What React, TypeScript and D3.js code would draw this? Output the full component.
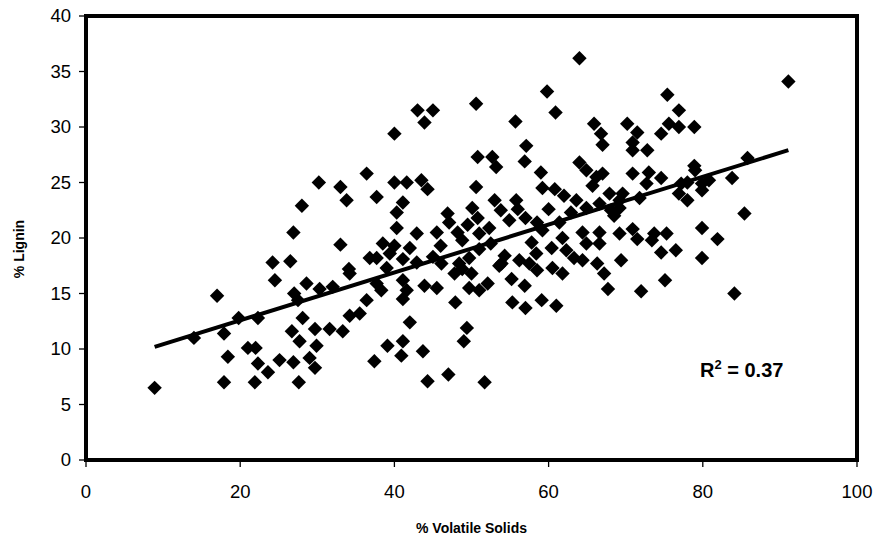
import React from "react";
import * as d3 from "d3";

const volatileSolids: number[] = [
  8.9, 14.0, 17.0, 17.9, 18.4, 17.9, 19.8, 22.3, 21.0, 22.0, 22.3, 23.6, 21.9, 24.5, 24.2, 26.5, 26.7, 27.7, 25.1, 26.9,
  27.6, 27.0, 27.5, 28.6, 30.3, 32.0, 34.2, 28.1, 29.7, 29.9, 29.0, 29.7, 31.6, 33.3, 34.2, 35.5, 36.4, 37.4, 37.7, 36.4,
  30.2, 33.0, 33.8, 28.0, 37.7, 26.9, 33.0, 36.8, 37.7, 34.1, 59.8, 43.0, 45.0, 43.9, 50.6, 40.0, 60.9, 55.7, 65.9, 66.8,
  67.0, 57.1, 50.8, 52.7, 53.2, 56.9, 64.0, 64.9, 59.0, 66.2, 65.7, 40.0, 41.6, 43.5, 44.3, 50.6, 59.2, 60.8, 41.1, 40.3,
  40.3, 42.9, 45.5, 46.0, 46.9, 48.2, 47.1, 50.1, 50.8, 53.0, 53.8, 55.8, 56.0, 54.9, 52.3, 51.0, 58.5, 59.2, 61.4, 61.8,
  62.9, 63.6, 64.9, 64.4, 66.6, 64.9, 38.5, 40.0, 42.0, 39.4, 41.1, 42.9, 46.1, 48.4, 49.7, 51.0, 54.3, 53.9, 56.2, 57.5,
  58.4, 60.4, 62.3, 63.3, 64.4, 66.3, 39.1, 41.1, 40.9, 43.7, 42.0, 44.3, 47.0, 51.7, 49.4, 49.0, 47.9, 41.1, 38.3, 41.6,
  43.9, 45.5, 47.8, 50.0, 49.7, 51.0, 52.1, 55.2, 56.9, 58.5, 60.5, 61.8, 55.3, 57.0, 59.1, 61.0, 67.7, 91.1, 75.4, 76.9,
  75.6, 76.9, 78.9, 74.6, 70.2, 71.5, 70.9, 70.9, 72.8, 78.9, 85.8, 83.8, 67.0, 70.9, 73.0, 74.6, 72.7, 77.2, 78.0, 79.9,
  80.8, 76.9, 78.0, 79.9, 67.9, 69.6, 69.2, 71.8, 68.1, 69.2, 85.4, 79.9, 81.9, 79.9, 69.2, 70.9, 71.5, 73.7, 75.3, 73.4,
  74.6, 76.5, 69.4, 72.0, 75.1, 84.1, 67.2, 64.0, 66.6, 68.5, 66.6, 39.0, 41.1, 48.8, 53.6, 79.0, 48.8, 49.5, 52.5, 57.0,
  60.0, 62.0, 45.0, 57.8,
];

const lignin: number[] = [
  6.5, 11.0, 14.8, 11.4, 9.3, 7.0, 12.8, 12.8, 10.1, 10.1, 8.7, 7.9, 7.0, 16.2, 17.8, 17.9, 11.6, 10.7, 9.0, 8.8,
  7.0, 15.0, 14.4, 15.9, 15.4, 15.6, 16.8, 12.8, 11.8, 10.3, 9.2, 8.3, 11.8, 11.6, 13.0, 13.2, 14.4, 8.9, 15.9, 25.8,
  25.0, 24.6, 23.4, 22.9, 23.7, 20.5, 19.4, 18.2, 18.2, 17.2, 33.2, 31.5, 31.5, 30.4, 32.1, 29.4, 31.3, 30.5, 30.3, 29.4,
  28.4, 28.3, 27.3, 27.3, 26.4, 26.9, 26.8, 26.1, 25.9, 25.5, 24.7, 25.0, 25.0, 25.2, 24.4, 24.6, 24.5, 24.4, 23.2, 22.3,
  20.9, 20.4, 20.5, 19.3, 22.2, 20.5, 21.4, 22.7, 21.8, 23.4, 22.5, 23.4, 22.6, 21.6, 20.9, 20.4, 21.4, 20.7, 21.4, 20.0,
  22.3, 23.4, 22.7, 20.5, 20.5, 19.5, 19.5, 19.3, 19.1, 18.6, 18.1, 17.8, 17.7, 17.7, 18.2, 19.0, 18.4, 17.7, 18.0, 17.7,
  18.6, 19.1, 18.9, 18.2, 18.0, 17.7, 10.3, 10.7, 9.4, 9.8, 12.4, 7.1, 7.7, 7.0, 11.9, 10.7, 14.2, 14.5, 15.3, 15.3,
  15.7, 15.5, 16.8, 16.8, 15.5, 15.3, 15.9, 16.3, 15.7, 17.1, 17.3, 16.8, 14.2, 13.7, 14.4, 13.9, 15.4, 34.1, 32.9, 31.5,
  30.3, 30.0, 30.0, 29.4, 30.3, 29.5, 28.6, 27.9, 27.9, 26.5, 27.2, 25.4, 25.8, 25.8, 25.9, 25.4, 24.9, 24.9, 25.0, 24.9,
  25.2, 24.0, 23.4, 24.3, 24.0, 24.0, 23.4, 23.6, 22.5, 22.7, 22.2, 20.9, 19.9, 18.2, 20.4, 20.8, 19.9, 20.4, 20.4, 19.8,
  18.7, 18.9, 18.0, 15.2, 16.2, 15.0, 16.8, 36.2, 23.1, 22.0, 19.5, 17.3, 16.2, 17.2, 17.5, 26.1, 19.8, 21.2, 19.5, 21.8,
  22.6, 23.8, 18.3, 19.6,
];

const xTicks: number[] = [0, 20, 40, 60, 80, 100];
const yTicks: number[] = [0, 5, 10, 15, 20, 25, 30, 35, 40];

const trendSlope = 0.2156;
const trendIntercept = 8.27;
const rSquaredText = "0.37";

const xTitle = "% Volatile Solids";
const yTitle = "% Lignin";

const W = 881;
const H = 545;
const left = 86;
const right = 857;
const top = 16;
const bottom = 460;
const FONT = "'Liberation Sans', Arial, Helvetica, sans-serif";

export default function App() {
  const x = d3.scaleLinear().domain([0, 100]).range([left, right]);
  const y = d3.scaleLinear().domain([0, 40]).range([bottom, top]);
  const points = volatileSolids.map((v, i) => ({ v, l: lignin[i] }));
  const diamond = d3.symbol().type(d3.symbolSquare).size(104)();
  const [x0, x1] = d3.extent(volatileSolids) as [number, number];
  const line = d3
    .line<number>()
    .x((d) => x(d))
    .y((d) => y(trendIntercept + trendSlope * d));

  return (
    <svg
      width={W}
      height={H}
      style={{ position: "absolute", left: 0, top: 0, background: "#fff" }}
      fontFamily={FONT}
    >
      <rect x={0} y={0} width={W} height={H} fill="#fff" />
      {yTicks.map((t) => (
        <g key={"y" + t}>
          <line x1={left - 7} x2={left} y1={y(t)} y2={y(t)} stroke="#000" strokeWidth={1.3} />
          <text x={left - 15} y={y(t)} dy="0.35em" textAnchor="end" fontSize={18.5} fill="#000">
            {t}
          </text>
        </g>
      ))}
      {xTicks.map((t) => (
        <g key={"x" + t}>
          <line x1={x(t)} x2={x(t)} y1={bottom} y2={bottom + 7} stroke="#000" strokeWidth={1.3} />
          <text x={x(t)} y={bottom + 38} textAnchor="middle" fontSize={18.5} fill="#000">
            {t}
          </text>
        </g>
      ))}
      {points.map((p, i) => (
        <path key={i} d={diamond} transform={`translate(${x(p.v)},${y(p.l)}) rotate(45)`} fill="#000" />
      ))}
      <path d={line([x0, x1]) || ""} stroke="#000" strokeWidth={4} fill="none" />
      <rect x={left} y={top} width={right - left} height={bottom - top} fill="none" stroke="#000" strokeWidth={4} />
      <text x={700} y={377} fontSize={20} fontWeight="bold" fill="#000">
        R<tspan dy={-8} fontSize={13}>2</tspan>
        <tspan dy={8}>{" = " + rSquaredText}</tspan>
      </text>
      <text x={(left + right) / 2} y={533} textAnchor="middle" fontSize={14} fontWeight="bold" fill="#000">
        {xTitle}
      </text>
      <text
        transform={`translate(24,${249}) rotate(-90)`}
        textAnchor="middle"
        fontSize={14}
        fontWeight="bold"
        fill="#000"
      >
        {yTitle}
      </text>
    </svg>
  );
}
